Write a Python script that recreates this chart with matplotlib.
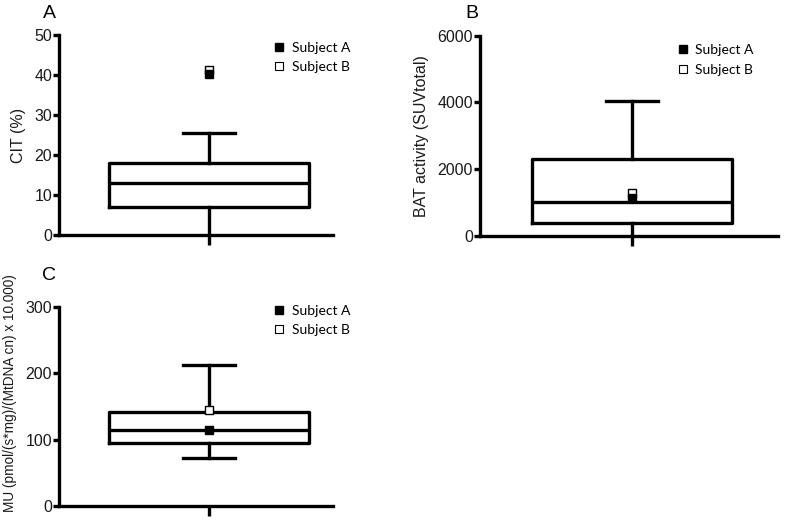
import matplotlib
matplotlib.use("Agg")
import matplotlib.pyplot as plt
from matplotlib.lines import Line2D

plt.rcParams['font.family'] = ['Liberation Sans', 'DejaVu Sans']

# ---- data ----
panels = ["A", "B", "C"]
ylabels = ["CIT (%)", "BAT activity (SUVtotal)", "MU (pmol/(s*mg)/(MtDNA cn) x 10.000)"]
q1 = [7.1, 390, 95]
median = [13.1, 1020, 115]
q3 = [17.9, 2290, 141.5]
whisker_low = [0, 0, 73]
whisker_high = [25.6, 4050, 213]
subject_a = [40.2, 1120, 114]
subject_b = [41.2, 1270, 145]
ymax = [50, 6000, 300]
yticks = [[0, 10, 20, 30, 40, 50], [0, 2000, 4000, 6000], [0, 100, 200, 300]]
legend_labels = ["Subject A", "Subject B"]

W, H = 787, 527
fig = plt.figure(figsize=(W / 100, H / 100), dpi=100)

# axes rectangles in pixels: left, right, top(ymax), bottom(y=0)
rects = [(59, 333, 35, 235), (480, 778, 35.7, 235.7), (59, 333, 307, 506)]
centers_px = [209, 632, 209]
boxw_px = [200, 200, 200]
caplo_show = [False, False, True]
legend_pos = [(0.738, 1.03), (0.62, 1.02), (0.738, 1.075)]
title_px = [(49, 13), (472, 13), (49, 275)]
label_fs = [11.5, 11.5, 9.8]

lw = 2.4
for i in range(3):
    l, r, t, b = rects[i]
    ax = fig.add_axes([l / W, 1 - b / H, (r - l) / W, (b - t) / H])
    span = r - l
    cfrac = (centers_px[i] - l) / span
    wfrac = boxw_px[i] / span
    L = 1.0 / wfrac * 0.73
    x0 = 1 - cfrac * L
    ax.set_xlim(x0, x0 + L)
    ax.set_ylim(0, ymax[i])
    stats = [dict(med=median[i], q1=q1[i], q3=q3[i], whislo=whisker_low[i],
                  whishi=whisker_high[i], fliers=[])]
    capw = 52 / 200
    bp = ax.bxp(stats, positions=[1], widths=0.73, showfliers=False,
                capwidths=0.73 * capw,
                boxprops=dict(linewidth=lw, color='black'),
                medianprops=dict(linewidth=lw, color='black'),
                whiskerprops=dict(linewidth=lw, color='black'),
                capprops=dict(linewidth=lw, color='black'),
                manage_ticks=False)
    if not caplo_show[i]:
        bp['caps'][0].set_visible(False)
    ax.plot([1], [subject_b[i]], marker='s', markersize=6, markerfacecolor='white',
            markeredgecolor='black', markeredgewidth=1.0, linestyle='none', zorder=5, clip_on=False)
    ax.plot([1], [subject_a[i]], marker='s', markersize=6, markerfacecolor='black',
            markeredgecolor='black', linestyle='none', zorder=6, clip_on=False)
    for s in ['top', 'right']:
        ax.spines[s].set_visible(False)
    for s in ['left', 'bottom']:
        ax.spines[s].set_linewidth(lw)
    ax.set_yticks(yticks[i])
    ax.set_xticks([1])
    ax.set_xticklabels([""])
    ax.tick_params(axis='y', direction='out', length=4, width=lw, labelsize=11.5,
                   labelcolor='#1a1a1a', pad=1)
    ax.tick_params(axis='x', direction='out', length=7, width=lw)
    ax.set_ylabel(ylabels[i], fontsize=label_fs[i], color='#1a1a1a', labelpad=6)
    if i == 2:
        ax.yaxis.set_label_coords((17 - l) / span, (b - 393) / (b - t))
    handles = [Line2D([], [], marker='s', markersize=6, markerfacecolor='black',
                      markeredgecolor='black', linestyle='none'),
               Line2D([], [], marker='s', markersize=6, markerfacecolor='white',
                      markeredgecolor='black', markeredgewidth=0.8, linestyle='none')]
    ax.legend(handles, legend_labels, loc='upper left', bbox_to_anchor=legend_pos[i],
              frameon=False, handlelength=0.8, handletextpad=0.5, labelspacing=0.55,
              prop=dict(family='Lato', size=10))
    tx, ty = title_px[i]
    fig.text(tx / W, 1 - ty / H, panels[i], fontsize=14, ha='center', va='center')

fig.savefig("out.png", dpi=100)
